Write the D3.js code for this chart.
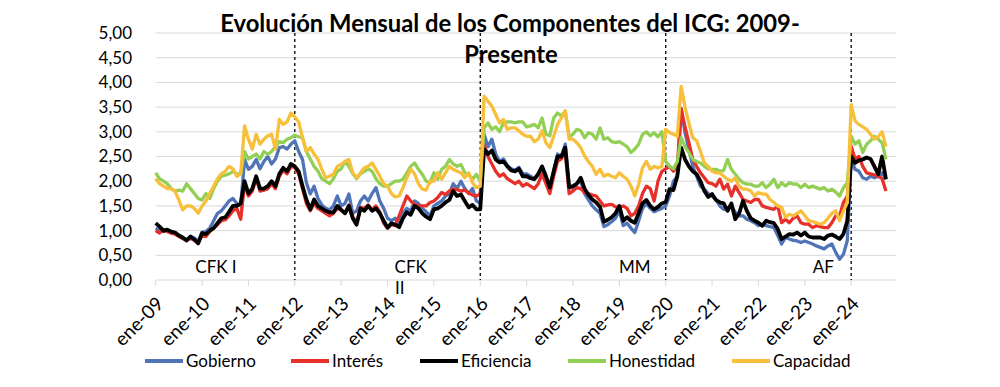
<!doctype html>
<html lang="es">
<head>
<meta charset="utf-8">
<script src="https://d3js.org/d3.v7.min.js"></script>
<title>Evolución Mensual de los Componentes del ICG</title>
<style>
  body { margin: 0; background: #fff; }
  svg text { font-family: Lato, "Open Sans", sans-serif; fill: #000; }
</style>
</head>
<body>
<svg id="chart" width="1000" height="387"></svg>
<script>
// etiquetas del eje x (una por año, cada 12 meses)
const tickLabels = ["ene-09","ene-10","ene-11","ene-12","ene-13","ene-14","ene-15","ene-16",
                    "ene-17","ene-18","ene-19","ene-20","ene-21","ene-22","ene-23","ene-24"];

// series mensuales desde ene-09
const gobierno = [
  1.05,1.00,0.98,1.00,0.95,0.95,0.90,0.85,0.82,0.88,0.85,0.78,
  0.97,0.98,1.05,1.20,1.35,1.40,1.50,1.60,1.65,1.55,1.50,2.44,
  2.24,2.30,2.44,2.25,2.40,2.50,2.35,2.45,2.68,2.70,2.65,2.75,
  2.82,2.60,2.44,1.97,1.74,1.90,1.65,1.52,1.45,1.42,1.50,1.70,
  1.50,1.55,1.74,1.35,1.40,1.60,1.70,1.60,1.75,1.87,1.60,1.45,
  1.25,1.20,1.25,1.15,1.35,1.45,1.40,1.60,1.55,1.45,1.38,1.30,
  1.50,1.55,1.60,1.70,1.75,1.95,1.85,2.00,1.85,1.75,1.85,1.60,
  1.55,2.95,2.70,2.85,2.55,2.40,2.45,2.32,2.25,2.22,2.28,2.15,
  2.15,2.10,2.05,2.12,2.30,2.10,1.90,2.20,2.55,2.50,2.75,1.90,
  1.85,1.95,2.00,1.75,1.62,1.50,1.42,1.35,1.08,1.12,1.18,1.25,
  1.40,1.10,1.15,1.05,0.96,1.20,1.45,1.55,1.45,1.38,1.42,1.45,
  1.50,1.70,2.00,2.10,3.48,2.98,2.65,2.30,2.10,1.90,1.84,1.75,
  1.70,1.63,1.50,1.43,1.45,1.50,1.37,1.30,1.30,1.23,1.20,1.16,
  1.10,1.13,1.10,1.08,1.06,0.90,0.73,0.86,0.83,0.80,0.79,0.76,
  0.79,0.76,0.73,0.69,0.66,0.63,0.69,0.73,0.56,0.42,0.52,0.80,
  2.45,2.24,2.20,2.07,2.04,2.10,2.07,2.10,2.17,2.04
];
const interes = [
  1.00,0.95,1.02,0.98,0.95,0.93,0.88,0.84,0.80,0.85,0.80,0.75,
  0.90,0.88,0.98,1.05,1.12,1.20,1.22,1.30,1.40,1.45,1.23,1.95,
  1.70,1.80,2.05,1.80,1.82,1.85,1.95,1.85,2.10,2.22,2.15,2.30,
  2.28,2.15,1.85,1.55,1.40,1.55,1.45,1.40,1.35,1.30,1.35,1.45,
  1.42,1.35,1.52,1.28,1.15,1.47,1.45,1.52,1.42,1.50,1.38,1.15,
  1.05,1.12,1.10,1.30,1.50,1.70,1.60,1.53,1.50,1.50,1.50,1.57,
  1.60,1.67,1.77,1.73,1.80,1.84,1.83,1.80,1.82,1.76,1.72,1.70,
  1.75,2.75,2.50,2.35,2.20,2.10,2.15,2.05,2.00,1.95,2.00,1.90,
  1.95,1.90,1.85,1.95,2.15,1.95,1.75,2.10,2.40,2.45,2.60,1.75,
  1.80,1.87,1.85,1.77,1.75,1.72,1.70,1.60,1.50,1.52,1.53,1.48,
  1.46,1.50,1.45,1.30,1.35,1.50,1.75,1.90,1.85,1.60,2.00,2.20,
  2.25,2.30,2.20,2.30,3.45,3.10,2.78,2.44,2.30,2.17,2.07,1.97,
  1.95,1.90,2.04,1.84,1.94,1.70,1.90,1.77,1.63,1.60,1.57,1.63,
  1.63,1.50,1.47,1.45,1.43,1.50,1.16,1.23,1.16,1.25,1.30,1.16,
  1.13,1.13,1.06,1.10,1.08,1.06,1.06,1.16,1.30,1.30,1.57,1.70,
  2.71,2.45,2.50,2.30,2.17,2.15,2.13,2.10,2.05,1.80
];
const eficiencia = [
  1.15,1.08,1.00,1.02,0.98,0.96,0.90,0.86,0.80,0.88,0.82,0.74,
  0.95,0.93,1.00,1.05,1.15,1.25,1.27,1.38,1.50,1.50,1.55,2.00,
  1.75,1.85,2.10,1.85,1.85,1.90,2.00,1.90,2.15,2.27,2.20,2.35,
  2.30,2.20,1.90,1.63,1.43,1.63,1.50,1.45,1.40,1.37,1.37,1.50,
  1.42,1.35,1.50,1.25,1.12,1.45,1.40,1.50,1.40,1.45,1.35,1.20,
  1.06,1.15,1.12,1.07,1.25,1.37,1.32,1.50,1.45,1.35,1.28,1.23,
  1.43,1.45,1.50,1.57,1.62,1.80,1.70,1.73,1.60,1.47,1.52,1.43,
  1.43,2.65,2.55,2.62,2.44,2.38,2.40,2.30,2.22,2.20,2.25,2.10,
  2.10,2.06,2.04,2.15,2.30,2.10,1.87,2.20,2.50,2.50,2.68,1.88,
  1.90,1.95,2.07,1.85,1.72,1.63,1.57,1.48,1.18,1.22,1.27,1.35,
  1.50,1.20,1.27,1.20,1.16,1.35,1.55,1.62,1.50,1.43,1.48,1.55,
  1.58,1.84,1.82,2.10,2.68,2.44,2.30,2.20,2.14,2.00,1.80,1.68,
  1.74,1.62,1.57,1.55,1.40,1.55,1.23,1.35,1.60,1.40,1.25,1.20,
  1.16,1.10,1.20,1.17,1.15,1.03,0.83,0.88,0.93,0.92,0.96,0.90,
  0.96,0.88,0.86,0.86,0.86,0.83,0.90,0.92,0.88,0.83,0.93,1.20,
  2.50,2.37,2.42,2.44,2.48,2.45,2.30,2.14,2.50,2.04
];
const honestidad = [
  2.17,2.05,2.00,1.95,1.85,1.80,1.82,1.80,1.95,1.85,1.75,1.65,
  1.62,1.75,1.65,1.85,2.00,2.10,2.12,2.15,2.20,2.15,2.15,2.60,
  2.45,2.50,2.55,2.45,2.60,2.55,2.60,2.70,2.80,2.78,2.85,2.88,
  2.93,2.90,2.88,2.60,2.45,2.30,2.20,2.05,2.00,1.95,2.05,2.20,
  2.25,2.40,2.30,2.15,2.05,2.15,2.20,2.25,2.20,2.05,1.95,1.90,
  1.90,1.95,2.00,2.00,2.04,2.17,2.30,2.37,2.24,2.14,2.00,1.97,
  2.17,2.04,2.24,2.30,2.44,2.35,2.30,2.34,2.17,2.14,2.04,2.14,
  2.00,3.08,3.18,3.05,3.10,3.00,3.18,3.20,3.20,3.18,3.20,3.20,
  3.10,3.12,3.15,3.08,3.28,2.95,2.92,3.28,3.38,3.32,3.42,2.90,
  2.95,3.05,3.02,2.88,2.98,2.95,2.85,3.08,2.85,2.88,2.80,2.78,
  2.80,2.75,2.70,2.58,2.65,2.75,2.95,3.00,2.92,2.98,2.90,3.00,
  2.40,2.30,2.25,2.40,2.88,2.70,2.58,2.44,2.40,2.37,2.30,2.25,
  2.24,2.24,2.20,2.22,2.44,2.24,2.14,2.04,1.97,1.94,1.94,1.90,
  1.90,1.97,1.87,1.94,2.04,1.87,1.97,1.90,1.97,1.94,1.94,1.87,
  1.94,1.87,1.90,1.87,1.84,1.87,1.80,1.84,1.78,1.70,1.87,1.97,
  2.91,2.75,2.82,2.58,2.75,2.82,2.91,2.85,2.78,2.44
];
const capacidad = [
  2.05,1.95,1.90,1.85,1.85,1.80,1.62,1.42,1.50,1.50,1.45,1.35,
  1.50,1.60,1.75,1.90,2.05,2.15,2.20,2.30,2.25,2.10,2.15,3.12,
  2.85,2.65,2.95,2.75,2.85,2.92,2.95,2.65,3.25,3.15,3.20,3.38,
  3.30,3.20,2.88,2.60,2.68,2.55,2.44,2.24,2.07,2.10,2.14,2.30,
  2.34,2.40,2.44,2.17,2.07,2.17,2.27,2.30,2.37,2.24,2.10,1.95,
  1.90,1.75,1.68,1.70,1.87,2.07,2.24,2.15,1.95,1.84,1.82,2.00,
  2.00,2.17,2.04,2.17,2.30,2.24,2.20,2.17,2.07,2.17,1.97,1.87,
  1.90,3.72,3.62,3.52,3.35,3.18,3.25,3.05,3.08,3.08,3.02,2.95,
  2.91,2.91,2.80,2.85,3.02,2.78,2.68,2.91,3.15,3.28,3.42,2.85,
  2.85,2.78,2.68,2.51,2.40,2.30,2.14,2.24,2.10,2.14,2.10,2.07,
  2.17,2.10,2.04,1.90,1.70,1.94,2.27,2.40,2.24,2.30,2.27,2.30,
  3.05,2.98,2.95,2.91,3.92,3.50,3.18,2.88,2.82,2.60,2.37,2.30,
  2.20,2.17,2.17,2.10,2.04,2.00,2.07,1.90,1.84,1.84,1.80,1.70,
  1.77,1.74,1.74,1.63,1.57,1.50,1.47,1.27,1.33,1.30,1.35,1.40,
  1.30,1.20,1.18,1.16,1.13,1.16,1.25,1.35,1.40,1.20,1.40,1.57,
  3.55,3.22,3.15,3.10,3.05,2.95,2.85,2.90,3.00,2.70
];

const seriesNames = ["Gobierno", "Interés", "Eficiencia", "Honestidad", "Capacidad"];
const seriesValues = [gobierno, interes, eficiencia, honestidad, capacidad];
const seriesColors = ["#4f74b8", "#e8302a", "#000000", "#92cf55", "#f7bf3a"];

// cambios de gobierno (mes desde ene-09) y etiquetas de periodo
const changeMonths = [36, 84, 132, 180];
const periodNames = ["CFK I", "CFK II", "MM", "AF"];

const svg = d3.select("#chart");
const plot = { left: 155.7, right: 896, top: 33, bottom: 280 };

const x = d3.scaleLinear().domain([0, 191.6]).range([plot.left, plot.right]);
const y = d3.scaleLinear().domain([0, 5]).range([plot.bottom, plot.top]);

svg.append("rect").attr("width", 1000).attr("height", 387).attr("fill", "#fff");

// grilla horizontal + etiquetas del eje y
const yTicks = d3.range(0, 5.01, 0.5);
svg.append("g").selectAll("line").data(yTicks).join("line")
  .attr("x1", plot.left).attr("x2", plot.right)
  .attr("y1", d => y(d)).attr("y2", d => y(d))
  .attr("stroke", "#d9d9d9").attr("stroke-width", 1);

const fmt = d => d.toFixed(2).replace(".", ",");
svg.append("g").selectAll("text").data(yTicks).join("text")
  .attr("x", 132).attr("y", d => y(d)).attr("dy", "0.35em")
  .attr("text-anchor", "end").attr("font-size", 17)
  .text(fmt);

// eje x: marcas y etiquetas rotadas
const xTicks = tickLabels.map((d, i) => i * 12);
svg.append("g").selectAll("line").data(xTicks).join("line")
  .attr("x1", d => x(d)).attr("x2", d => x(d))
  .attr("y1", plot.bottom).attr("y2", plot.bottom + 6)
  .attr("stroke", "#d9d9d9");

svg.append("g").selectAll("text").data(tickLabels).join("text")
  .attr("transform", (d, i) => `translate(${x(i * 12) + 9},${plot.bottom + 25}) rotate(-45)`)
  .attr("text-anchor", "end").attr("font-size", 19)
  .text(d => d);

// lineas punteadas de cambio de gobierno
svg.append("g").selectAll("line").data(changeMonths).join("line")
  .attr("x1", d => x(d)).attr("x2", d => x(d))
  .attr("y1", plot.top).attr("y2", plot.bottom)
  .attr("stroke", "#000").attr("stroke-width", 1.3)
  .attr("stroke-dasharray", "3,3");

// series
const line = d3.line().x((d, i) => x(i)).y(d => y(d));
svg.append("g").selectAll("path").data(seriesValues).join("path")
  .attr("d", line)
  .attr("fill", "none")
  .attr("stroke", (d, i) => seriesColors[i])
  .attr("stroke-width", (d, i) => i === 2 ? 3.8 : 3.3)
  .attr("stroke-linejoin", "round");

// etiquetas de periodo
const periodX = [15.6, 66, 124, 172.8];
periodNames.forEach((name, i) => {
  const t = svg.append("text")
    .attr("x", x(periodX[i])).attr("y", 273)
    .attr("text-anchor", "middle").attr("font-size", 17);
  if (name === "CFK II") {
    t.text("CFK");
    svg.append("text").attr("x", x(periodX[i]) - 11).attr("y", 294)
      .attr("text-anchor", "middle").attr("font-size", 17).text("II");
  } else {
    t.text(name);
  }
});

// titulo en dos lineas
const title1 = svg.append("text")
  .attr("x", 510).attr("y", 32)
  .attr("text-anchor", "middle").attr("font-weight", "bold").attr("font-size", 22)
  .text("Evolución Mensual de los Componentes del ICG: 2009-");
const w = title1.node().getComputedTextLength();
const titleSize = 22 * 580 / w;
title1.attr("font-size", titleSize);
svg.append("text")
  .attr("x", 511).attr("y", 63)
  .attr("text-anchor", "middle").attr("font-weight", "bold").attr("font-size", titleSize)
  .text("Presente");

// leyenda
const legendX = [145, 291, 420, 568, 732];
const legend = svg.append("g").selectAll("g").data(seriesNames).join("g")
  .attr("transform", (d, i) => `translate(${legendX[i]},361)`);
legend.append("line")
  .attr("x1", 0).attr("x2", 38)
  .attr("stroke", (d, i) => seriesColors[i]).attr("stroke-width", 4);
legend.append("text")
  .attr("x", 41).attr("dy", "0.35em").attr("font-size", 17)
  .text(d => d);
</script>
</body>
</html>
